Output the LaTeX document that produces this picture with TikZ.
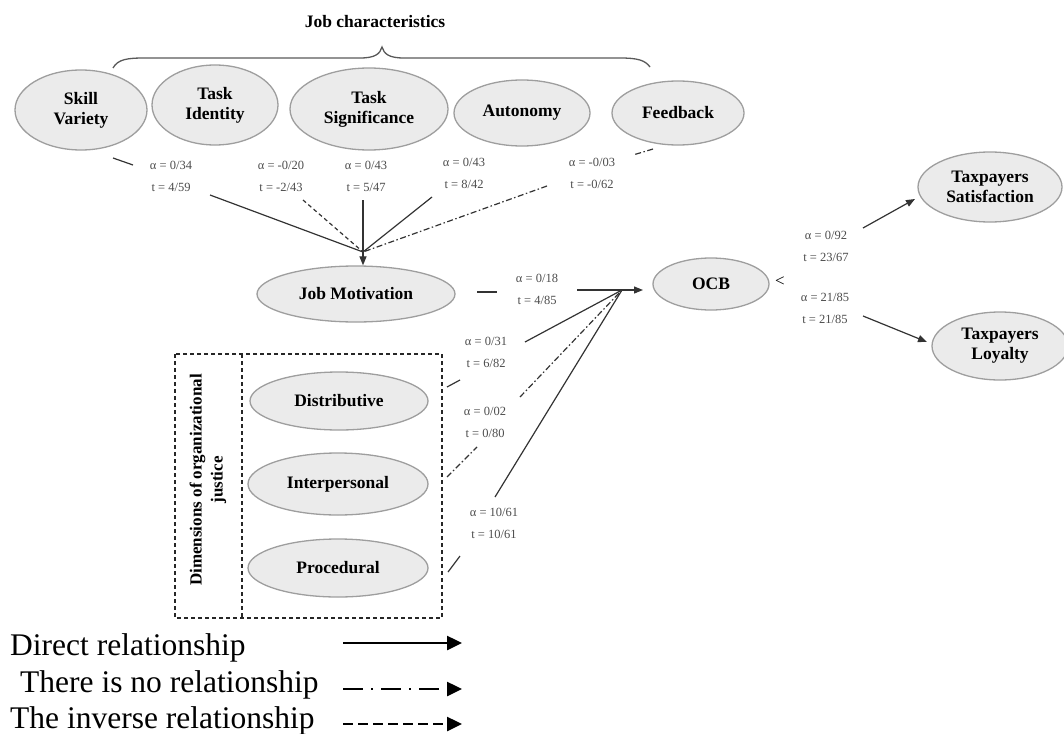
\documentclass[tikz,border=0pt]{standalone}
\usepackage{fontspec}
\setmainfont{Liberation Serif}
\usetikzlibrary{shapes.geometric,arrows.meta}
\begin{document}
\begin{tikzpicture}[x=1pt,y=-1pt,
  ell/.style 2 args={ellipse, draw=black!38, fill=black!8, line width=1.3pt,
    minimum width=#1, minimum height=#2, inner sep=0pt, align=center,
    font=\fontsize{17.5}{20}\selectfont\bfseries},
  lab/.style={align=center, text=black!70, inner sep=0pt,
    font=\fontsize{12.5}{22}\selectfont},
  conn/.style={draw=black!80, line width=1.2pt},
  tip/.style={-{Triangle[length=9pt,width=7pt]}},
  dashdot/.style={dash pattern=on 6pt off 2.5pt on 1.5pt off 2.5pt},
  dashy/.style={dash pattern=on 4pt off 3pt},
  boxline/.style={draw=black!85, line width=1.4pt, dash pattern=on 4pt off 3pt},
  legfont/.style={inner sep=0pt, font=\fontsize{31.5}{36}\selectfont},
  legline/.style={draw=black, line width=2.5pt, -{Triangle[length=15pt,width=14pt]}},
]
\useasboundingbox (0,0) rectangle (1064,733);

% title and brace
\node[font=\fontsize{17.5}{20}\selectfont\bfseries] (jc) at (375,22) {Job characteristics};
\draw[draw=black!65, line width=1.3pt] (113,68) .. controls (118,59) and (128,58) .. (145,58)
  -- (360,58) .. controls (375,58) and (380,54) .. (382,47)
  .. controls (384,54) and (389,58) .. (404,58) -- (620,58)
  .. controls (637,58) and (645,60) .. (650,67);

% ellipses
\node[ell={132pt}{80pt}] (sv) at (81,110) {Skill\\Variety};
\node[ell={126pt}{80pt}] (ti) at (215,105) {Task\\Identity};
\node[ell={158pt}{82pt}] (ts) at (369,109) {Task\\Significance};
\node[ell={136pt}{66pt}] (au) at (522,113) {Autonomy};
\node[ell={132pt}{64pt}] (fb) at (678,113) {Feedback};
\node[ell={198pt}{56pt}] (jm) at (356,294) {Job Motivation};
\node[ell={116pt}{52pt}] (ocb) at (711,284) {OCB};
\node[ell={144pt}{70pt}] (sat) at (990,187) {Taxpayers\\Satisfaction};
\node[ell={136pt}{68pt}] (loy) at (1000,346) {Taxpayers\\Loyalty};
\node[ell={178pt}{58pt}] (dist) at (339,401) {Distributive};
\node[ell={180pt}{62pt}] (inter) at (338,484) {Interpersonal};
\node[ell={180pt}{58pt}] (proc) at (338,568) {Procedural};

% justice box
\draw[boxline] (175,354) rectangle (442,618);
\draw[boxline] (242,354) -- (242,618);
\node[rotate=90, align=center, inner sep=0pt, font=\fontsize{17}{21}\selectfont\bfseries] (dimlab) at (208,480) {Dimensions of organizational\\justice};

% labels
\node[lab] (l1) at (171,176) {α = 0/34\\t = 4/59};
\node[lab] (l2) at (281,176) {α = -0/20\\t = -2/43};
\node[lab] (l3) at (366,176) {α = 0/43\\t = 5/47};
\node[lab] (l4) at (464,173) {α = 0/43\\t = 8/42};
\node[lab] (l5) at (592,173) {α = -0/03\\t = -0/62};
\node[lab] (l6) at (537,289) {α = 0/18\\t = 4/85};
\node[lab] (l7) at (486,352) {α = 0/31\\t = 6/82};
\node[lab] (l8) at (485,422) {α = 0/02\\t = 0/80};
\node[lab] (l9) at (494,523) {α = 10/61\\t = 10/61};
\node[lab] (l10) at (826,246) {α = 0/92\\t = 23/67};
\node[lab] (l11) at (825,308) {α = 21/85\\t = 21/85};

% coordinates for connectors
\coordinate (jmin) at (363,252);
\coordinate (sv1) at (113,158); \coordinate (sv2) at (133,165); \coordinate (sv3) at (210,195);
\coordinate (ti1) at (303,200);
\coordinate (ts1) at (363,200);
\coordinate (au1) at (432,197);
\coordinate (fb1) at (653,149); \coordinate (fb2) at (633,155); \coordinate (fb3) at (547,186);

\coordinate (ocbin) at (622,290);
\coordinate (ocbtip) at (643,290);
\coordinate (jm1) at (477,292); \coordinate (jm2) at (497,292); \coordinate (jm3) at (577,290);
\coordinate (d1) at (447,387); \coordinate (d2) at (460,380); \coordinate (d3) at (525,342);
\coordinate (i1) at (447,477); \coordinate (i2) at (477,447); \coordinate (i3) at (520,397);
\coordinate (p1) at (448,572); \coordinate (p2) at (460,556); \coordinate (p3) at (495,497);

% into Job Motivation
\draw[conn] (sv1) -- (sv2);
\draw[conn] (sv3) -- (jmin);
\draw[conn, dashy] (ti1) -- (jmin);
\draw[conn] (ts1) -- (jmin);
\draw[conn] (au1) -- (jmin);
\draw[conn, dashdot] (fb1) -- (fb2);
\draw[conn, dashdot] (fb3) -- (jmin);
\draw[conn, tip] (jmin) -- (jmin |- jm.north);

% into OCB
\draw[conn] (jm1) -- (jm2);
\draw[conn] (jm3) -- (ocbin);
\draw[conn] (d1) -- (d2);
\draw[conn] (d3) -- (ocbin);
\draw[conn, dashdot] (i1) -- (i2);
\draw[conn, dashdot] (i3) -- (ocbin);
\draw[conn] (p1) -- (p2);
\draw[conn] (p3) -- (ocbin);
\draw[conn, tip] (ocbin) -- (ocbtip);

% out of OCB
\node[inner sep=0pt, font=\fontsize{17}{20}\selectfont] (lt) at (780,282) {<};
\coordinate (s1) at (863,228); \coordinate (s2) at (915,199);
\coordinate (y1) at (863,316); \coordinate (y2) at (927,342);
\draw[conn, tip] (s1) -- (s2);
\draw[conn, tip] (y1) -- (y2);

% legend
\node[legfont, anchor=base west] (lg1) at (10,655) {Direct relationship};
\node[legfont, anchor=base west] (lg2) at (20,692) {There is no relationship};
\node[legfont, anchor=base west] (lg3) at (10,728) {The inverse relationship};
\coordinate (a1s) at (343,643); \coordinate (a1e) at (462,643);
\coordinate (a2s) at (343,689); \coordinate (a2e) at (462,689);
\coordinate (a3s) at (343,724); \coordinate (a3e) at (462,724);
\draw[legline] (a1s) -- (a1e);
\draw[legline, dash pattern=on 20pt off 8pt on 2pt off 8pt] (a2s) -- (a2e);
\draw[legline, dash pattern=on 10pt off 5pt] (a3s) -- (a3e);
\end{tikzpicture}
\end{document}
